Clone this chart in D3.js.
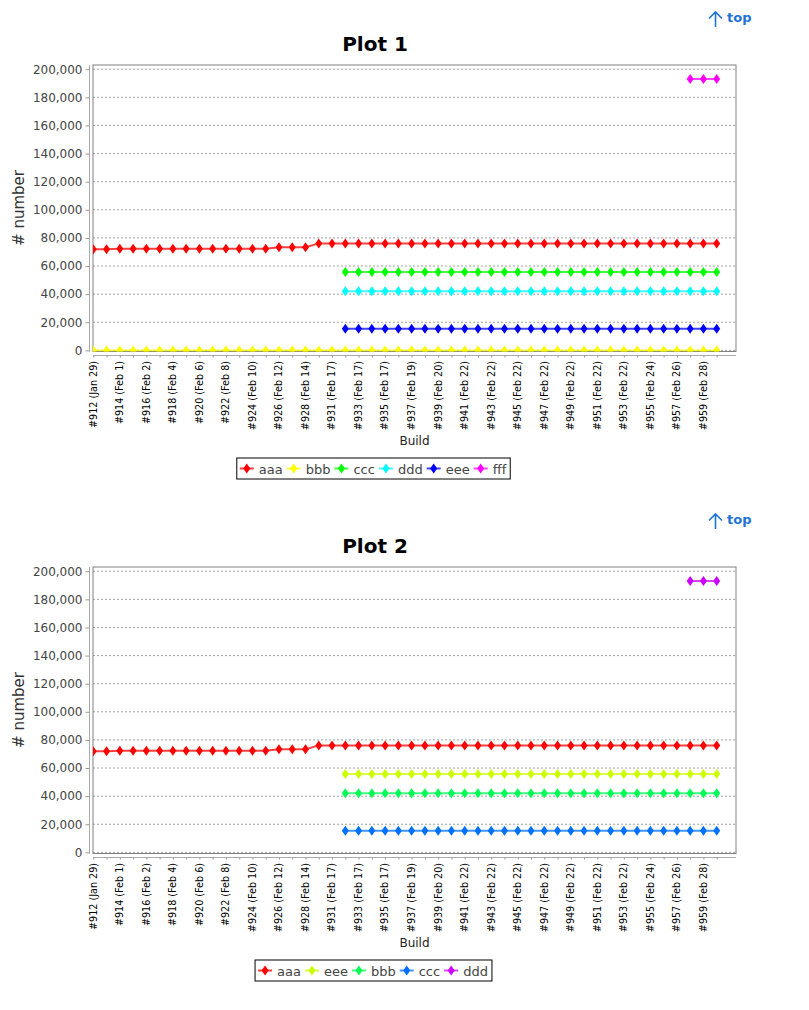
<!DOCTYPE html>
<html>
<head>
<meta charset="utf-8">
<script src="https://cdn.jsdelivr.net/npm/d3@7"></script>
<style>
  body { margin: 0; background: #fff; font-family: "DejaVu Sans", sans-serif; }
</style>
</head>
<body>
<div id="chart"></div>
<script>

// builds on the x axis (only every other label is shown, as in the picture)
const builds = [
  "#912 (Jan 29)", "#913 (Jan 31)", "#914 (Feb 1)", "#915 (Feb 1)", "#916 (Feb 2)", "#917 (Feb 3)",
  "#918 (Feb 4)", "#919 (Feb 5)", "#920 (Feb 6)", "#921 (Feb 7)", "#922 (Feb 8)", "#923 (Feb 9)",
  "#924 (Feb 10)", "#925 (Feb 11)", "#926 (Feb 12)", "#927 (Feb 13)", "#928 (Feb 14)", "#930 (Feb 16)",
  "#931 (Feb 17)", "#932 (Feb 17)", "#933 (Feb 17)", "#934 (Feb 17)", "#935 (Feb 17)", "#936 (Feb 18)",
  "#937 (Feb 19)", "#938 (Feb 19)", "#939 (Feb 20)", "#940 (Feb 21)", "#941 (Feb 22)", "#942 (Feb 22)",
  "#943 (Feb 22)", "#944 (Feb 22)", "#945 (Feb 22)", "#946 (Feb 22)", "#947 (Feb 22)", "#948 (Feb 22)",
  "#949 (Feb 22)", "#950 (Feb 22)", "#951 (Feb 22)", "#952 (Feb 22)", "#953 (Feb 22)", "#954 (Feb 23)",
  "#955 (Feb 24)", "#956 (Feb 25)", "#957 (Feb 26)", "#958 (Feb 27)", "#959 (Feb 28)", "#960 (Mar 1)"
]

const yTicks = [0, 20000, 40000, 60000, 80000, 100000, 120000, 140000, 160000, 180000, 200000]

// series values, null = no value for that build
const valsTop = [
  71900, 71900, 72300, 72300, 72300, 72300, 72300, 72300, 72300, 72300, 72300, 72300,
  72300, 72300, 73300, 73300, 73300, 76100, 76100, 76100, 76100, 76100, 76100, 76100,
  76100, 76100, 76100, 76100, 76100, 76100, 76100, 76100, 76100, 76100, 76100, 76100,
  76100, 76100, 76100, 76100, 76100, 76100, 76100, 76100, 76100, 76100, 76100, 76100
]
const valsZero = [
  0, 0, 0, 0, 0, 0, 0, 0, 0, 0, 0, 0,
  0, 0, 0, 0, 0, 0, 0, 0, 0, 0, 0, 0,
  0, 0, 0, 0, 0, 0, 0, 0, 0, 0, 0, 0,
  0, 0, 0, 0, 0, 0, 0, 0, 0, 0, 0, 0
]
const vals56 = [
  null, null, null, null, null, null, null, null, null, null, null, null,
  null, null, null, null, null, null, null, 55700, 55700, 55700, 55700, 55700,
  55700, 55700, 55700, 55700, 55700, 55700, 55700, 55700, 55700, 55700, 55700, 55700,
  55700, 55700, 55700, 55700, 55700, 55700, 55700, 55700, 55700, 55700, 55700, 55700
]
const vals42 = [
  null, null, null, null, null, null, null, null, null, null, null, null,
  null, null, null, null, null, null, null, 42000, 42000, 42000, 42000, 42000,
  42000, 42000, 42000, 42000, 42000, 42000, 42000, 42000, 42000, 42000, 42000, 42000,
  42000, 42000, 42000, 42000, 42000, 42000, 42000, 42000, 42000, 42000, 42000, 42000
]
const vals15 = [
  null, null, null, null, null, null, null, null, null, null, null, null,
  null, null, null, null, null, null, null, 15300, 15300, 15300, 15300, 15300,
  15300, 15300, 15300, 15300, 15300, 15300, 15300, 15300, 15300, 15300, 15300, 15300,
  15300, 15300, 15300, 15300, 15300, 15300, 15300, 15300, 15300, 15300, 15300, 15300
]
const vals193 = [
  null, null, null, null, null, null, null, null, null, null, null, null,
  null, null, null, null, null, null, null, null, null, null, null, null,
  null, null, null, null, null, null, null, null, null, null, null, null,
  null, null, null, null, null, null, null, null, null, 193000, 193000, 193000
]

const plot1Series = [
  {name: "aaa", color: "#ff0000", values: valsTop},
  {name: "bbb", color: "#ffff00", values: valsZero},
  {name: "ccc", color: "#00ff00", values: vals56},
  {name: "ddd", color: "#00ffff", values: vals42},
  {name: "eee", color: "#0000ff", values: vals15},
  {name: "fff", color: "#ff00ff", values: vals193}
]
const plot2Series = [
  {name: "aaa", color: "#ff0000", values: valsTop},
  {name: "eee", color: "#ccff00", values: vals56},
  {name: "bbb", color: "#00ff55", values: vals42},
  {name: "ccc", color: "#0070ff", values: vals15},
  {name: "ddd", color: "#cc00ff", values: vals193}
]

const svg = d3.select("#chart")
    .append("svg")
    .attr("width", 809)
    .attr("height", 1010)

const fmt = d3.format(",")

function diamond(x, y) {
    return `M${x},${y - 5}L${x + 3.5},${y}L${x},${y + 5}L${x - 3.5},${y}Z`
}

function drawPlot(title, series, oy, id) {
    const g = svg.append("g").attr("transform", `translate(0, ${oy})`)

    let margin = {top: 65, bottom: 351.5, left: 93, right: 736}

    // "top" link
    const link = g.append("g").attr("fill", "none").attr("stroke", "#1f73d4").attr("stroke-width", 1.6)
    link.append("path").attr("d", "M715.5,27 L715.5,12 M709,18.5 L715.5,12 L722,18.5")
    g.append("text")
        .attr("x", 727).attr("y", 22)
        .attr("fill", "#1f73d4")
        .style("font-size", "13px").style("font-weight", "bold")
        .text("top")

    // title
    g.append("text")
        .attr("x", 375).attr("y", 51)
        .attr("text-anchor", "middle")
        .style("font-size", "20px").style("font-weight", "bold")
        .text(title)

    const x = d3.scalePoint()
        .domain(builds)
        .range([93.3, 716.7])

    const y = d3.scaleLinear()
        .domain([-800, 203000])
        .range([margin.bottom, margin.top])

    // grid
    g.append("g").selectAll("line")
        .data(yTicks)
        .join("line")
        .attr("x1", margin.left).attr("x2", margin.right)
        .attr("y1", d => y(d)).attr("y2", d => y(d))
        .attr("stroke", "#8a8a8a")
        .attr("stroke-width", 0.8)
        .attr("stroke-dasharray", "2,2")

    // plot border
    g.append("rect")
        .attr("x", margin.left).attr("y", margin.top)
        .attr("width", margin.right - margin.left)
        .attr("height", margin.bottom - margin.top)
        .attr("fill", "none")
        .attr("stroke", "#808080")

    // y axis
    const yAxis = g.append("g")
        .attr("transform", "translate(89.5, 0)")
        .call(d3.axisLeft(y).tickValues(yTicks).tickFormat(fmt).tickSize(4).tickPadding(3))
    yAxis.select(".domain").attr("stroke", "#aaa").attr("d", `M0,${margin.top}V${margin.bottom}`)
    yAxis.selectAll(".tick line").attr("stroke", "#999")
    yAxis.selectAll("text")
        .attr("fill", "#444")
        .style("font-size", "12px")
        .style("font-family", "DejaVu Sans")

    g.append("text")
        .attr("transform", `translate(24, 208) rotate(-90)`)
        .attr("text-anchor", "middle")
        .attr("fill", "#333")
        .style("font-size", "15px")
        .text("# number")

    // x axis
    const xAxis = g.append("g")
        .attr("transform", "translate(0, 355.5)")
        .call(d3.axisBottom(x).tickSize(2).tickFormat(""))
    xAxis.select(".domain").attr("stroke", "#aaa").attr("d", `M${margin.left},0H${margin.right}`)
    xAxis.selectAll(".tick line").attr("stroke", "#999")

    g.append("g").selectAll("text")
        .data(builds.filter((d, i) => i % 2 === 0))
        .join("text")
        .attr("transform", d => `translate(${x(d)}, 361) rotate(-90)`)
        .attr("text-anchor", "end")
        .attr("dy", "0.35em")
        .style("font-size", "9.6px")
        .text(d => d)

    g.append("text")
        .attr("x", 414.5).attr("y", 445)
        .attr("text-anchor", "middle")
        .attr("fill", "#222")
        .style("font-size", "12px")
        .text("Build")

    // series
    g.append("clipPath").attr("id", id)
        .append("rect")
        .attr("x", margin.left).attr("y", margin.top)
        .attr("width", margin.right - margin.left)
        .attr("height", margin.bottom - margin.top)

    const area = g.append("g").attr("clip-path", `url(#${id})`)

    const line = d3.line()
        .defined(d => d !== null)
        .x((d, i) => x(builds[i]))
        .y(d => y(d))

    for (const s of series) {
        area.append("path")
            .datum(s.values)
            .attr("d", line)
            .attr("fill", "none")
            .attr("stroke", s.color)
            .attr("stroke-width", 2)
            .attr("stroke-opacity", 0.75)

        area.append("g").selectAll("path")
            .data(s.values.map((v, i) => ({v, i})).filter(d => d.v !== null))
            .join("path")
            .attr("d", d => diamond(x(builds[d.i]), y(d.v)))
            .attr("fill", s.color)
    }

    // legend
    const leg = g.append("g")
    const items = leg.selectAll("g")
        .data(series)
        .join("g")
    items.append("text")
        .attr("y", 473.5)
        .attr("fill", "#444")
        .style("font-size", "13px")
        .text(d => d.name)

    let widths = []
    items.select("text").each(function() { widths.push(this.getComputedTextLength()) })
    const itemW = widths.map(w => 14 + 5 + w + 4)
    const total = d3.sum(itemW) + 3
    let lx = 373.5 - total / 2
    leg.insert("rect", "g")
        .attr("x", lx).attr("y", 458)
        .attr("width", total).attr("height", 21)
        .attr("fill", "#fff")
        .attr("stroke", "#000")
    let cx = lx + 3
    items.each(function(d, i) {
        const it = d3.select(this)
        it.append("line")
            .attr("x1", cx).attr("x2", cx + 14)
            .attr("y1", 468.5).attr("y2", 468.5)
            .attr("stroke", d.color).attr("stroke-width", 2).attr("stroke-opacity", 0.75)
        it.append("path")
            .attr("d", diamond(cx + 7, 468.5))
            .attr("fill", d.color)
        it.select("text").attr("x", cx + 19)
        cx += itemW[i]
    })
}

drawPlot("Plot 1", plot1Series, 0, "clip1")
drawPlot("Plot 2", plot2Series, 502, "clip2")

</script>
</body>
</html>
